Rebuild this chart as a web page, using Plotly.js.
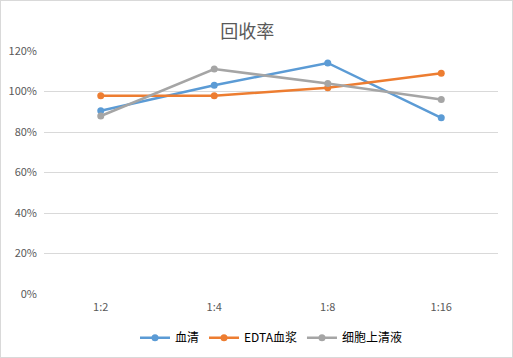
<!DOCTYPE html>
<html><head><meta charset="utf-8">
<script src="https://cdn.plot.ly/plotly-3.0.1.min.js"></script>
<style>html,body{margin:0;padding:0;background:#fff;}#c{width:511px;height:356px;border:1px solid #D9D9D9;}</style>
</head><body><div id="c"></div>
<script>
const categories = ['1:2','1:4','1:8','1:16'];
const serum = [0.905, 1.031, 1.141, 0.870];
const edtaPlasma = [0.979, 0.979, 1.019, 1.090];
const cellSupernatant = [0.879, 1.111, 1.039, 0.960];
const seriesNames = ['血清','EDTA血浆','细胞上清液'];
const colors = ['#5B9BD5','#ED7D31','#A5A5A5'];
const font = '"Noto Sans CJK SC", Calibri, "Liberation Sans", sans-serif';
const data = [serum, edtaPlasma, cellSupernatant].map((v,i)=>({
  x: categories, y: v, name: seriesNames[i], type:'scatter', mode:'lines+markers',
  line:{color:colors[i], width:2.5}, marker:{color:colors[i], size:7}
}));
const layout = {
  width:511, height:356,
  margin:{l:43, r:14, t:50, b:63, autoexpand:false},
  paper_bgcolor:'#fff', plot_bgcolor:'#fff',
  font:{family:font, color:'#595959', size:11},
  title:{text:'回收率', font:{size:18, color:'#595959', family:font}, x:0.482, xanchor:'center', y:0.915, yanchor:'middle'},
  xaxis:{type:'category', range:[-0.5,3.5], showgrid:false, zeroline:false, showline:false, ticks:'', ticklabelstandoff:5, tickfont:{size:11}},
  yaxis:{range:[0,1.2], dtick:0.2, tickformat:'.0%', showgrid:true, gridcolor:'#D9D9D9', gridwidth:1, zeroline:false, showline:false, ticks:'', ticklabelstandoff:6, tickfont:{size:11}},
  legend:{orientation:'h', x:0.5, xanchor:'center', y:-0.18, yanchor:'middle', font:{size:12, color:'#000'}, itemwidth:30, tracegroupgap:0},
  showlegend:true
};
Plotly.newPlot('c', data, layout, {displayModeBar:false, staticPlot:true});
</script></body></html>
